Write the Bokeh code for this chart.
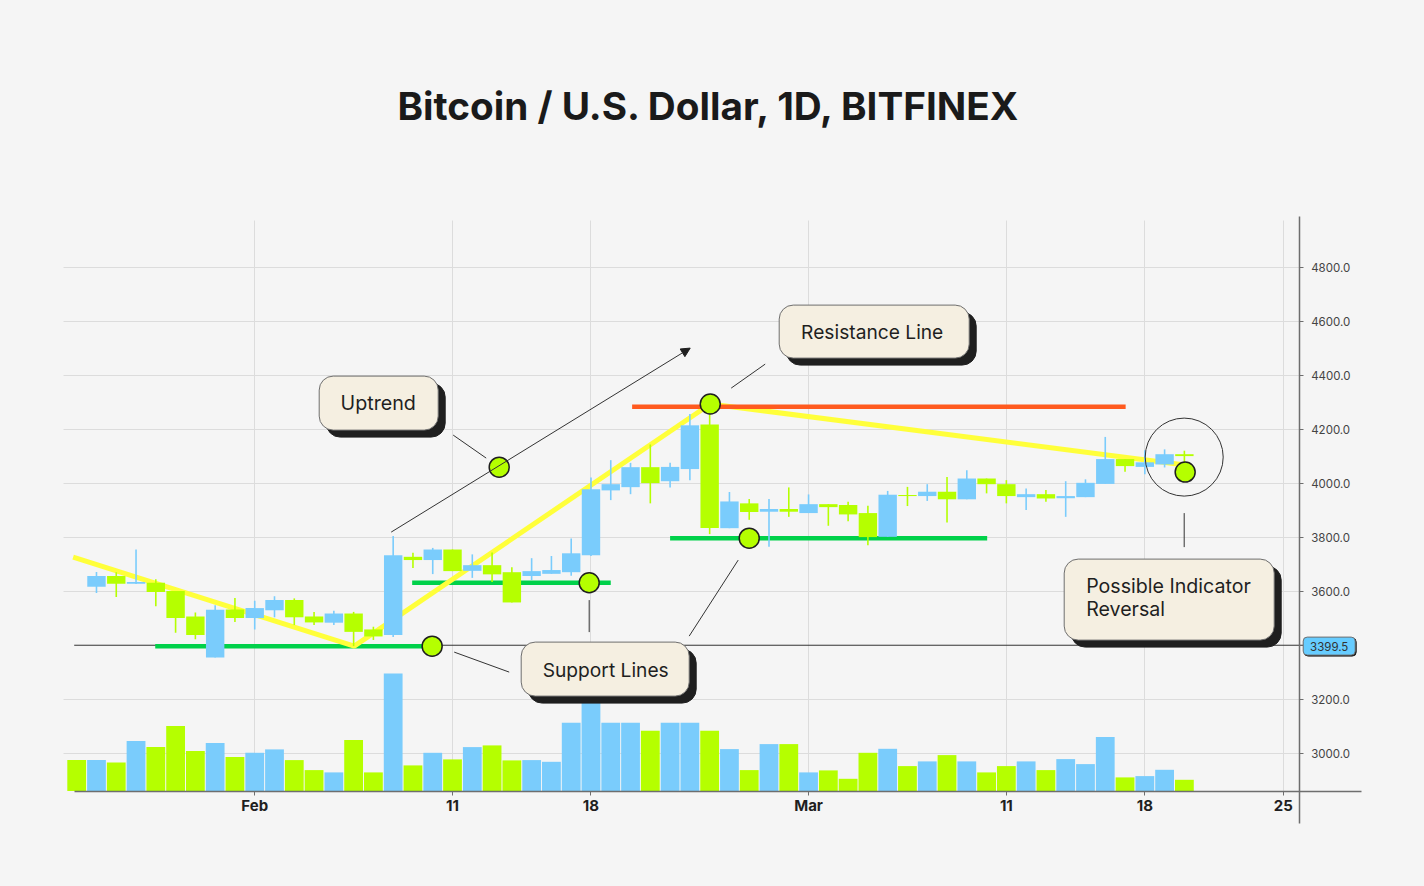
"""Bitcoin daily candles with hand drawn support and resistance notes."""
from bokeh.embed import file_html
from bokeh.models import (
    Arrow,
    BoxAnnotation,
    ColumnDataSource,
    FixedTicker,
    Label,
    NormalHead,
    NumeralTickFormatter,
    Range1d,
)
from bokeh.plotting import figure
from bokeh.resources import INLINE

TITLE = "Bitcoin / U.S. Dollar, 1D, BITFINEX"

# candles, day 0 is Jan 23 (it only has a volume bar)
DAYS = list(range(1, 57))
OPEN = [3616, 3656, 3627, 3631, 3600, 3506, 3354, 3532, 3500, 3529, 3567, 3506, 3483, 3517,
        3458, 3437, 3727, 3715, 3754, 3675, 3696, 3670, 3656, 3664, 3670, 3733, 3973, 3985,
        4059, 4007, 4052, 4217, 3833, 3925, 3894, 3904, 3889, 3922, 3919, 3889, 3801, 3956,
        3952, 3968, 3940, 4017, 3996, 3948, 3959, 3944, 3948, 3997, 4089, 4060, 4069, 4107]
CLOSE = [3656, 3627, 3634, 3597, 3500, 3437, 3531, 3500, 3537, 3567, 3503, 3484, 3517, 3449,
         3432, 3733, 3715, 3754, 3674, 3696, 3662, 3558, 3674, 3678, 3740, 3977, 3996, 4059,
         4000, 4060, 4214, 3834, 3932, 3893, 3904, 3894, 3922, 3911, 3884, 3800, 3957, 3952,
         3968, 3940, 4017, 3996, 3952, 3959, 3943, 3952, 4001, 4089, 4063, 4077, 4107, 4100]
HIGH = [3671, 3670, 3754, 3644, 3600, 3521, 3548, 3574, 3564, 3581, 3573, 3523, 3527, 3523,
        3468, 3804, 3742, 3760, 3754, 3736, 3743, 3688, 3722, 3730, 3795, 4021, 4085, 4075,
        4143, 4075, 4256, 4256, 3967, 3941, 3941, 3984, 3958, 3922, 3931, 3916, 3971, 3986,
        3996, 4023, 4048, 4017, 4011, 3980, 3974, 4007, 4014, 4171, 4089, 4122, 4125, 4120]
LOW = [3593, 3578, 3626, 3544, 3446, 3422, 3354, 3486, 3458, 3503, 3474, 3474, 3474, 3396,
       3419, 3430, 3686, 3663, 3674, 3649, 3634, 3558, 3641, 3664, 3657, 3730, 3937, 3959,
       3925, 3984, 4011, 3811, 3833, 3864, 3764, 3875, 3889, 3842, 3859, 3770, 3801, 3915,
       3934, 3854, 3940, 3962, 3925, 3900, 3931, 3875, 3948, 3997, 4042, 4033, 4058, 4074]

VOLUME_DAYS = list(range(0, 57))
VOLUME = [3100, 3100, 2870, 5000, 4400, 6500, 4000, 4800, 3400, 3830, 4170, 3100, 2100, 1870,
          5100, 1870, 11770, 2570, 3830, 3170, 4400, 4570, 3070, 3100, 2930, 6830, 10000, 6830,
          6830, 6030, 6830, 6830, 6030, 4200, 2100, 4700, 4700, 1870, 2070, 1230, 3830, 4230,
          2500, 2970, 3600, 2970, 1870, 2500, 2970, 2100, 3200, 2700, 5400, 1370, 1500, 2130,
          1130]

PRICE_TICKS = [3000, 3200, 3600, 3800, 4000, 4200, 4400, 4600, 4800]
DATE_TICKS = [9, 19, 26, 37, 47, 54, 61]
DATE_LABELS = ["Feb", "11", "18", "Mar", "11", "18", "25"]

LAST_PRICE = 3399.5
TREND_DAYS = [-0.18, 14.03, 32.03, 56.03]
TREND_PRICES = [3726, 3396, 4293, 4067]
SUPPORT_STARTS = [3.97, 16.96, 30.0]
SUPPORT_ENDS = [17.97, 27.0, 46.03]
SUPPORT_PRICES = [3396, 3631, 3796]
RESISTANCE_DAYS = [28.08, 53.03]
RESISTANCE_PRICE = 4283
MARKER_DAYS = [17.97, 25.91, 34.0, 32.03, 21.36, 56.04]
MARKER_PRICES = [3396, 3631, 3796, 4293, 4059, 4041]

BG = "#F5F5F5"
BLUE = "#7ACCFC"
GREEN = "#B5FF00"
DARK = "#1F1F1F"
CREAM = "#F5EFE1"
FONT = "Inter"

# page pixels per day and per dollar, used to lay the notes out
PX_DAY = 19.78
PX_USD = 0.27


def day_at(px):
    return (px - 76.5) / PX_DAY


def price_at(py):
    return 3000 + (753 - py) / PX_USD


p = figure(
    width=1408,
    height=870,
    x_range=Range1d(day_at(0.3), day_at(1408.3)),
    y_range=Range1d(price_at(870.4), price_at(0.4)),
    x_axis_location="below",
    y_axis_location="right",
    toolbar_location=None,
    output_backend="svg",
    min_border=0,
    background_fill_color=BG,
    border_fill_color=BG,
    outline_line_color=None,
)
p.extra_y_ranges = {"volume": Range1d(-7940, 79060)}

p.xaxis.fixed_location = price_at(791)
p.xaxis.bounds = (day_at(74), day_at(1361))
p.xaxis.ticker = FixedTicker(ticks=DATE_TICKS)
p.xaxis.major_label_overrides = dict(zip(DATE_TICKS, DATE_LABELS))
p.xaxis.major_label_text_font = FONT
p.xaxis.major_label_text_font_style = "bold"
p.xaxis.major_label_text_font_size = "15px"
p.xaxis.major_label_text_color = DARK
p.xaxis.major_label_standoff = 1
p.yaxis.fixed_location = day_at(1299)
p.yaxis.bounds = (price_at(823), price_at(216))
p.yaxis.ticker = FixedTicker(ticks=PRICE_TICKS)
p.yaxis.formatter = NumeralTickFormatter(format="0.0")
p.yaxis.major_label_text_font = FONT
p.yaxis.major_label_text_font_size = "11.5px"
p.yaxis.major_label_text_color = "#444444"
p.yaxis.major_label_standoff = 8
for axis in (p.xaxis, p.yaxis):
    axis.axis_line_color = "#6E6E6E"
    axis.axis_line_width = 1.5
    axis.major_tick_line_color = "#6E6E6E"
    axis.major_tick_in = 0
    axis.major_tick_out = 4
    axis.minor_tick_line_color = None

p.xgrid.cross_bounds = (price_at(791), price_at(220))
p.ygrid.cross_bounds = (day_at(63), day_at(1299))
p.grid.grid_line_color = "#DCDCDC"
p.grid.grid_line_width = 1

# lines behind the candles
p.line(
    [day_at(74), day_at(1303)], [LAST_PRICE] * 2, line_color="#333333", line_width=1,
)
p.segment(
    SUPPORT_STARTS, SUPPORT_PRICES, SUPPORT_ENDS, SUPPORT_PRICES,
    line_color="#00D14A", line_width=4.5,
)
p.line(TREND_DAYS, TREND_PRICES, line_color="#FFFF3A", line_width=5)
p.line(
    RESISTANCE_DAYS, [RESISTANCE_PRICE] * 2, line_color="#FF5A1F", line_width=4.5,
)

candle_colors = [BLUE if c > o else GREEN for o, c in zip(OPEN, CLOSE)]
candles = ColumnDataSource(
    data={
        "day": DAYS,
        "open": OPEN,
        "close": CLOSE,
        "high": HIGH,
        "low": LOW,
        "color": candle_colors,
    }
)
p.segment(
    x0="day", y0="low", x1="day", y1="high", source=candles,
    line_color="color", line_width=1.6,
)
p.vbar(
    x="day", top="close", bottom="open", width=0.93, source=candles,
    fill_color="color", line_color=None,
)

bars = ColumnDataSource(
    data={"day": VOLUME_DAYS, "volume": VOLUME, "color": [GREEN] + candle_colors}
)
p.vbar(
    x="day", top="volume", bottom=0, width=0.95, source=bars, y_range_name="volume",
    fill_color="color", line_color=None,
)

# thin leaders from the notes to the chart
LEADER_X0 = [453, 731, 454, 589, 738, 1184]
LEADER_Y0 = [435, 388, 652, 600, 560, 513]
LEADER_X1 = [486, 765, 509, 589, 689, 1184]
LEADER_Y1 = [458, 364, 672, 632, 636, 547]
p.segment(
    [day_at(v) for v in LEADER_X0],
    [price_at(v) for v in LEADER_Y0],
    [day_at(v) for v in LEADER_X1],
    [price_at(v) for v in LEADER_Y1],
    line_color="#333333",
    line_width=1,
)
p.add_layout(
    Arrow(
        end=NormalHead(size=9, fill_color=DARK, line_color=DARK),
        x_start=day_at(391), y_start=price_at(532),
        x_end=day_at(690), y_end=price_at(348),
        line_color="#333333", line_width=1,
    )
)

p.scatter(
    [day_at(1184)], [price_at(457)], marker="circle", size=78,
    fill_color=None, line_color="#333333", line_width=1,
)
p.scatter(
    MARKER_DAYS, MARKER_PRICES, marker="circle", size=20,
    fill_color=GREEN, line_color=DARK, line_width=1.5,
)


def note(left, top, right, bottom, shadow=7, radius=14, fill=CREAM):
    """Rounded box with a hard dark shadow."""
    p.add_layout(
        BoxAnnotation(
            left=day_at(left + shadow), right=day_at(right + shadow),
            top=price_at(top + shadow), bottom=price_at(bottom + shadow),
            fill_color=DARK, fill_alpha=1, line_color=DARK, line_alpha=1,
            border_radius=radius,
        )
    )
    p.add_layout(
        BoxAnnotation(
            left=day_at(left), right=day_at(right),
            top=price_at(top), bottom=price_at(bottom),
            fill_color=fill, fill_alpha=1, line_color="#6E6E6E", line_alpha=1,
            line_width=1, border_radius=radius,
        )
    )


def text(px, py, value, size, align="left", color=DARK, style="normal"):
    p.add_layout(
        Label(
            x=day_at(px), y=price_at(py), text=value, text_font=FONT,
            text_font_size=size, text_color=color, text_align=align,
            text_baseline="middle", text_font_style=style,
        )
    )


note(319, 376, 438, 430)
note(779, 305, 969, 358)
note(521, 642, 689, 696)
note(1064, 559, 1274, 640)
note(1303, 637, 1355, 655, shadow=1, radius=4, fill="#66CCFF")

text(378, 402.5, "Uptrend", "19.7px", align="center")
text(872, 331.5, "Resistance Line", "19.2px", align="center")
text(605.5, 669.5, "Support Lines", "19.2px", align="center")
text(1086, 585.5, "Possible Indicator", "19.6px")
text(1086, 608.5, "Reversal", "19.6px")
text(1329, 646, "3399.5", "11.5px", align="center", color="#333333")
text(709.5, 105.5, TITLE, "38.7px", align="center", color="#1A1A1A", style="bold")

PAGE = "{% block postamble %}<style>html,body{background:#F5F5F5}</style>{% endblock %}"
open("out.html", "w").write(file_html(p, INLINE, template=PAGE))
